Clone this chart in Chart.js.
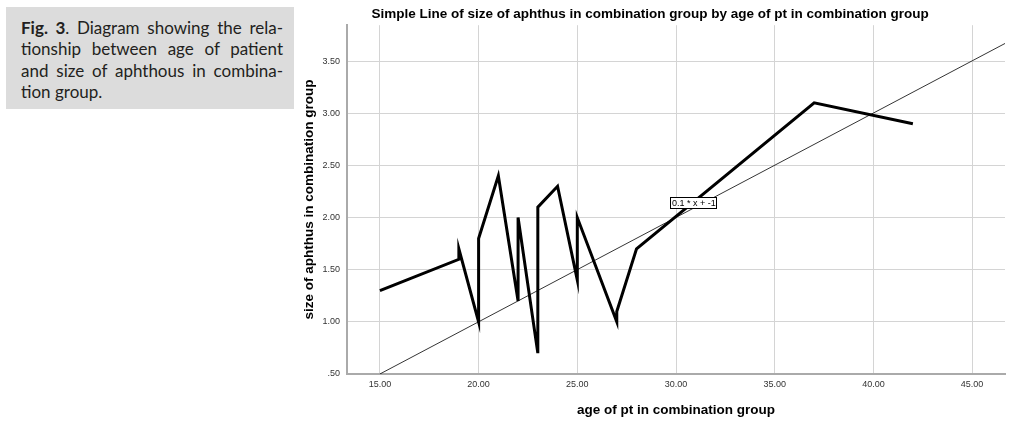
<!DOCTYPE html>
<html>
<head>
<meta charset="utf-8">
<script src="https://cdn.jsdelivr.net/npm/chart.js@4"></script>
<style>
  html, body { margin: 0; padding: 0; background: #fff; }
  #wrap { position: relative; width: 1024px; height: 428px; }
  #graph { position: absolute; left: 0; top: 0; }
  #caption {
    position: absolute; left: 6px; top: 7px; width: 288px; height: 102px;
    box-sizing: border-box; padding: 10px 11px 0 15px;
    background: #dcdcdc; color: #231f20;
    font-family: Lato, sans-serif; font-size: 17px; line-height: 21.3px;
  }
  #caption span { display: block; white-space: nowrap; text-align: justify; text-align-last: justify; }
  #caption span.last { text-align-last: left; }
</style>
</head>
<body>
<div id="wrap">
  <canvas id="graph" width="1024" height="428"></canvas>
  <div id="caption">
    <span><b>Fig. 3</b>. Diagram showing the rela-</span>
    <span>tionship between age of patient</span>
    <span>and size of aphthous in combina-</span>
    <span class="last">tion group.</span>
  </div>
</div>
<script>
// Data
const ages = [15, 19, 19, 20, 20, 21, 22, 22, 23, 23, 24, 25, 25, 27, 27, 28, 37, 42];
const sizes = [1.3, 1.6, 1.7, 1.0, 1.8, 2.4, 1.2, 2.0, 0.7, 2.1, 2.3, 1.4, 2.0, 1.0, 1.1, 1.7, 3.1, 2.9];

// Fit line endpoints (y = 0.1x - 1)
const fitAges = [15, 46.67];
const fitSizes = [0.5, 3.67];
const fitLabel = '0.1 * x + -1';

// Tick values
const xTicks = [15, 20, 25, 30, 35, 40, 45];
const yTicks = [0.5, 1.0, 1.5, 2.0, 2.5, 3.0, 3.5];

const tickFont = { family: 'Liberation Sans, Arial, sans-serif', size: 9 };
const titleFont = { family: 'Liberation Sans, Arial, sans-serif', size: 13.5, weight: 'bold' };

function fmt(v) {
    const s = v.toFixed(2);
    return s.startsWith('0') ? s.slice(1) : s;
}

// Box with the fit equation
const fitLabelPlugin = {
    id: 'fitLabel',
    afterDatasetsDraw(chart, args, opts) {
        const { ctx, scales } = chart;
        const cx = scales.x.getPixelForValue(opts.x);
        const cy = scales.y.getPixelForValue(opts.y);
        ctx.save();
        ctx.font = '9px Liberation Sans, Arial, sans-serif';
        const w = ctx.measureText(fitLabel).width + 2;
        const h = 11;
        ctx.fillStyle = '#fff';
        ctx.fillRect(cx - w / 2, cy - h / 2, w, h);
        ctx.strokeStyle = '#000';
        ctx.lineWidth = 1;
        ctx.strokeRect(Math.round(cx - w / 2) + 0.5, Math.round(cy - h / 2) + 0.5, Math.round(w), h);
        ctx.fillStyle = '#000';
        ctx.textAlign = 'center';
        ctx.textBaseline = 'middle';
        ctx.fillText(fitLabel, cx + 1, cy + 0.5);
        ctx.restore();
    }
};

const ctx = document.getElementById('graph').getContext('2d');

const chart = new Chart(ctx, {
    type: 'scatter',
    data: {
        datasets: [
            {
                label: 'size',
                data: ages.map((a, i) => ({ x: a, y: sizes[i] })),
                showLine: true,
                borderColor: '#000',
                borderWidth: 3,
                borderJoinStyle: 'miter',
                pointRadius: 0,
                tension: 0,
            },
            {
                label: 'fit',
                data: fitAges.map((a, i) => ({ x: a, y: fitSizes[i] })),
                showLine: true,
                borderColor: '#000',
                borderWidth: 0.8,
                pointRadius: 0,
            },
        ],
    },
    options: {
        responsive: false,
        animation: false,
        layout: { padding: { left: 295, right: 19, top: 0, bottom: 0 } },
        plugins: {
            legend: { display: false },
            tooltip: { enabled: false },
            title: {
                display: true,
                text: 'Simple Line of size of aphthus in combination group by age of pt in combination group',
                color: '#000',
                font: titleFont,
                padding: { top: 6, bottom: 3 },
            },
            fitLabel: { x: 30.85, y: 2.14 },
        },
        scales: {
            x: {
                type: 'linear',
                min: 13.333,
                max: 46.667,
                afterBuildTicks: (s) => { s.ticks = xTicks.map(v => ({ value: v })); },
                afterFit: (s) => { s.height = 54; },
                ticks: { font: tickFont, color: '#333', padding: 5, callback: fmt, maxRotation: 0 },
                grid: { color: '#d4d4d4', lineWidth: 1, drawTicks: false },
                border: { color: '#aaa', width: 2 },
                title: {
                    display: true,
                    text: 'age of pt in combination group',
                    color: '#000',
                    font: titleFont,
                    padding: { top: 0, bottom: 10 },
                },
            },
            y: {
                type: 'linear',
                min: 0.5,
                max: 3.845,
                afterBuildTicks: (s) => { s.ticks = yTicks.map(v => ({ value: v })); },
                afterFit: (s) => { s.width = 52; },
                ticks: { font: tickFont, color: '#333', padding: 7, callback: fmt },
                grid: { color: '#d4d4d4', lineWidth: 1, drawTicks: false },
                border: { color: '#aaa', width: 2 },
                title: {
                    display: true,
                    text: 'size of aphthus in combination group',
                    color: '#000',
                    font: titleFont,
                    padding: { top: 6, bottom: 0 },
                },
            },
        },
    },
    plugins: [fitLabelPlugin],
});
</script>
</body>
</html>
